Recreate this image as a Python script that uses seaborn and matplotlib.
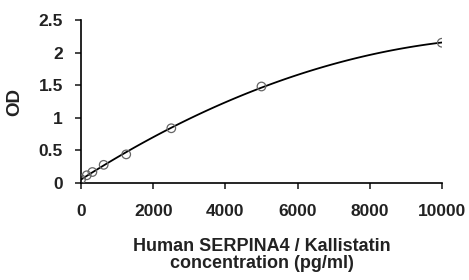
import numpy as np
import pandas as pd
import seaborn as sns
import matplotlib
matplotlib.use('Agg')
import matplotlib.pyplot as plt

# standard curve readings
conc = [0, 156, 312, 625, 1250, 2500, 5000, 10000]
od = [0.06, 0.12, 0.17, 0.28, 0.44, 0.84, 1.48, 2.15]
x_ticks = [0, 2000, 4000, 6000, 8000, 10000]
y_ticks = [0, 0.5, 1, 1.5, 2, 2.5]
y_tick_labels = ['0', '0.5', '1', '1.5', '2', '2.5']

df = pd.DataFrame({'conc': conc, 'od': od})

sns.set_style('white')
plt.rcParams['font.family'] = ['Liberation Sans', 'DejaVu Sans']
plt.rcParams['font.weight'] = 'bold'

fig = plt.figure(figsize=(4.69, 2.8), dpi=100)
ax = fig.add_axes([0.173, 0.346, 0.769, 0.583])

# fitted curve (quadratic)
sns.regplot(data=df, x='conc', y='od', order=2, ci=None, scatter=False,
            line_kws={'color': 'black', 'lw': 1.3}, ax=ax)
sns.scatterplot(data=df, x='conc', y='od', marker='o', s=38,
                facecolor='none', edgecolor='#666666', linewidth=0.9, ax=ax, zorder=3)

ax.set_xlim(0, 10000)
ax.set_ylim(0, 2.5)
ax.set_xticks(x_ticks)
ax.set_yticks(y_ticks)
ax.set_yticklabels(y_tick_labels)
ax.tick_params(axis='both', labelsize=12.5, length=4, width=1.2, direction='out',
               bottom=True, left=True)
ax.tick_params(axis='x', pad=11)
ax.tick_params(axis='y', pad=9)
for lab in ax.get_xticklabels() + ax.get_yticklabels():
    lab.set_fontweight('bold')
    lab.set_color('#222222')

sns.despine(ax=ax)
for s in ['left', 'bottom']:
    ax.spines[s].set_color('black')
    ax.spines[s].set_linewidth(1.2)

ax.set_xlabel('Human SERPINA4 / Kallistatin\nconcentration (pg/ml)', fontsize=13,
              fontweight='bold', color='#222222', labelpad=14, linespacing=1.0)
ax.set_ylabel('OD', fontsize=13.5, fontweight='bold', color='#222222', labelpad=11)

fig.savefig('out.png', dpi=100)
